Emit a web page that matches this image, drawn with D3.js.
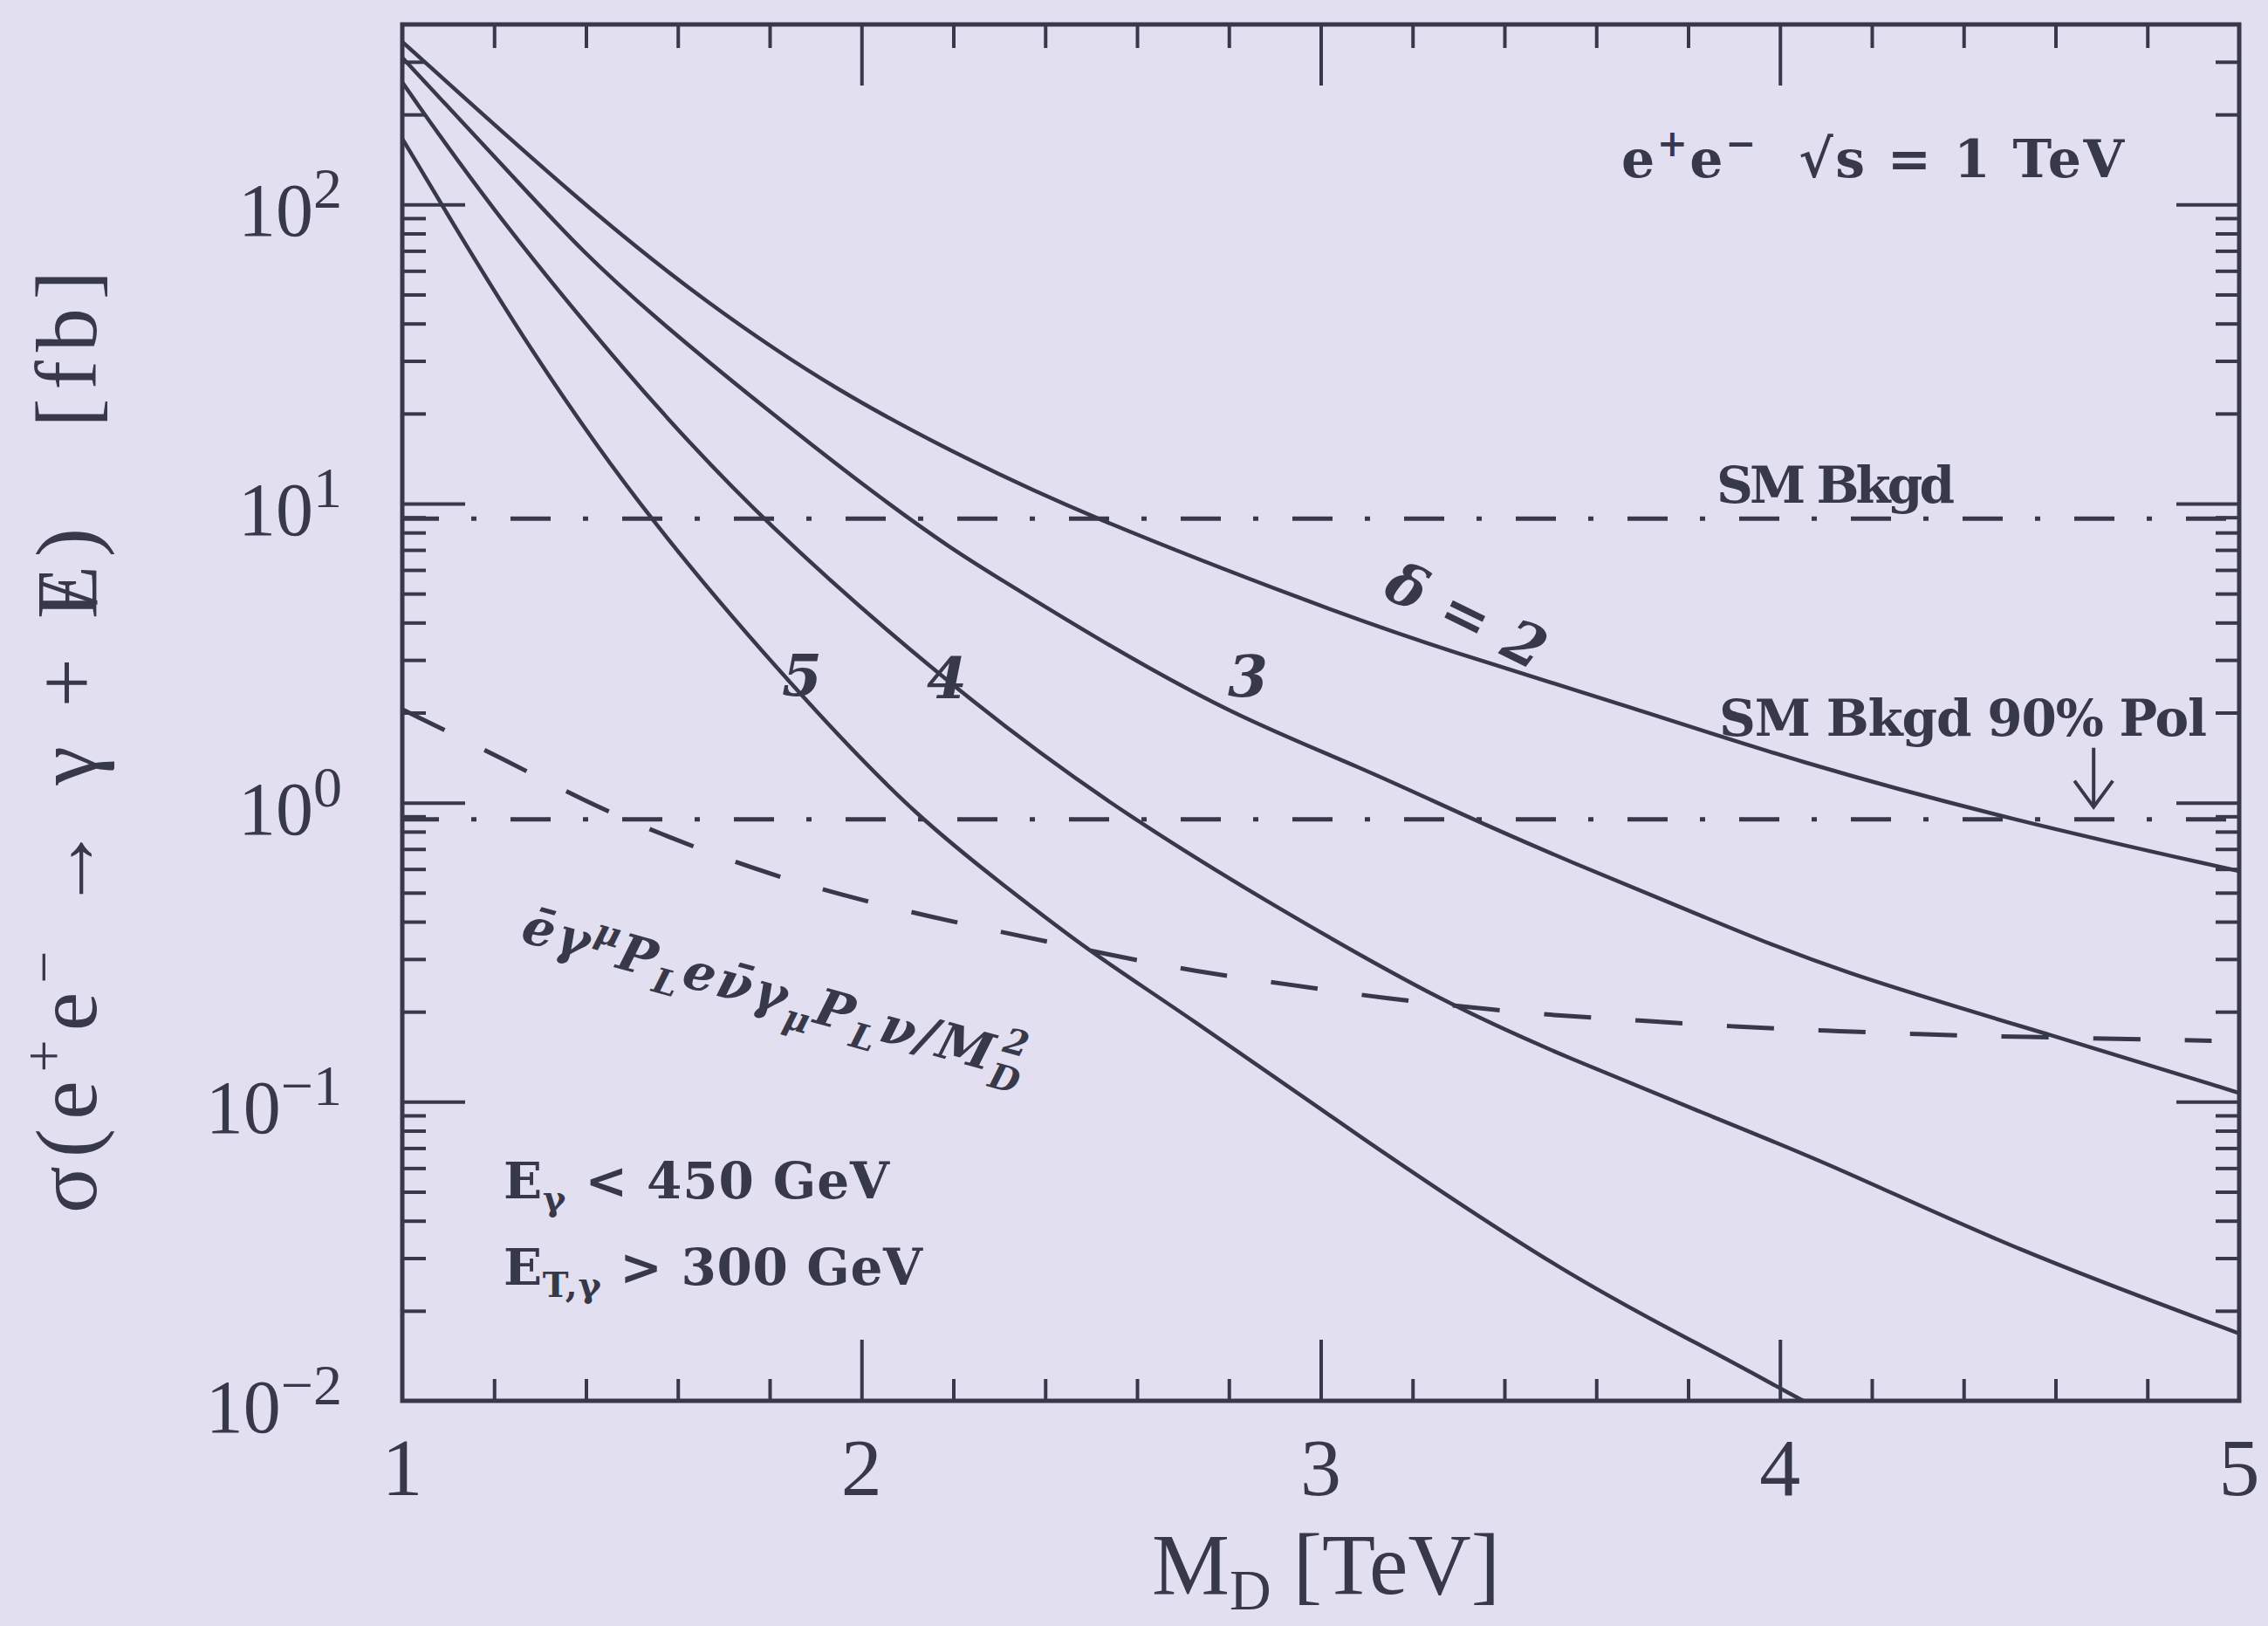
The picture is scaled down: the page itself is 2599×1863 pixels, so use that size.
<!DOCTYPE html>
<html>
<head>
<meta charset="utf-8">
<script src="https://cdn.jsdelivr.net/npm/d3@7"></script>
<style>
  body { margin: 0; background: #e2e0f0; }
  svg { display: block; }
</style>
</head>
<body>
<svg width="2599" height="1863"></svg>
<script>
var svg = d3.select("svg"),
  width = +svg.attr("width"),
  height = +svg.attr("height");

var ink = "#38384b";

// sigma(e+e- -> gamma + missing E) in fb against M_D in TeV
var delta2 = [[1.0, 350], [1.396, 99], [1.657, 47.4], [1.948, 23.6], [2.24, 13.8], [2.471, 9.37],
  [2.99, 4.57], [3.278, 3.21], [3.68, 2.08], [4.03, 1.38], [4.51, 0.87], [5.0, 0.59]];
var delta3 = [[1.0, 310], [1.299, 99.3], [1.48, 50], [2.094, 8.8], [2.31, 5.5], [2.499, 3.63],
  [2.81, 1.95], [3.085, 1.32], [3.33, 0.88], [3.54, 0.637], [3.83, 0.418], [4.12, 0.273],
  [4.61, 0.164], [5.0, 0.107]];
var delta4 = [[1.0, 256], [1.1875, 99.5], [1.48, 28], [1.773, 8.9], [2.267, 1.97], [2.59, 0.88],
  [2.89, 0.458], [3.28, 0.209], [3.54, 0.14], [3.83, 0.092], [4.12, 0.061], [4.51, 0.032],
  [5.0, 0.0168]];
var delta5 = [[1.0, 166], [1.0855, 100], [1.27, 34], [1.532, 8.9], [1.90, 1.99], [2.127, 0.88],
  [2.309, 0.53], [2.499, 0.315], [2.697, 0.2], [3.085, 0.076], [3.54, 0.026], [3.83, 0.0153],
  [4.056, 0.0099]];
// contact operator, dashed
var contact = [[1.0, 2.05], [1.224, 1.39], [1.40, 1.005], [1.557, 0.79], [1.77, 0.595],
  [1.958, 0.49], [2.15, 0.415], [2.34, 0.36], [2.54, 0.31], [2.73, 0.272], [2.92, 0.248],
  [3.115, 0.224], [3.31, 0.208], [3.51, 0.194], [3.70, 0.187], [3.90, 0.178], [4.10, 0.173],
  [4.30, 0.168], [4.50, 0.165], [4.94, 0.160]];
// SM backgrounds, dash-dot
var smBkgd = 8.9;
var smBkgdPol = 0.88;

var xMajor = [1, 2, 3, 4, 5];
var yMajor = [0.01, 0.1, 1, 10, 100];
var yExponent = ["\u22122", "\u22121", "0", "1", "2"];

var x = d3.scaleLinear().domain([1, 5]).range([461, 2566]);
var y = d3.scaleLog().domain([0.01, 400]).range([1605, 28]);

// minor ticks
var xMinor = d3.range(6, 25).filter(function(i) { return i % 5 != 0; }).map(function(i) { return i / 5; });
var yMinor = [];
[-2, -1, 0, 1, 2].forEach(function(e) {
  for (var k = 2; k <= 9; k++) {
    var v = k * Math.pow(10, e);
    if (v < 400) yMinor.push(v);
  }
});

svg.append("rect").attr("width", width).attr("height", height).attr("fill", "#e2e0f0");

svg.append("clipPath").attr("id", "plot-clip").append("rect")
  .attr("x", x(1)).attr("y", y(400))
  .attr("width", x(5) - x(1)).attr("height", y(0.01) - y(400));

/**
 * Strip the domain path and thicken the ticks
 */
function tickStyle(g) {
  g.select(".domain").remove();
  g.selectAll("line").attr("stroke-width", 4);
}

var axes = svg.append("g").attr("color", ink);

// bottom & top
axes.append("g").attr("transform", "translate(0," + y(0.01) + ")")
  .call(d3.axisBottom(x).tickValues(xMinor).tickSize(-25).tickFormat("")).call(tickStyle);
axes.append("g").attr("transform", "translate(0," + y(0.01) + ")")
  .call(d3.axisBottom(x).tickValues([2, 3, 4]).tickSize(-70).tickFormat("")).call(tickStyle);
axes.append("g").attr("transform", "translate(0," + y(400) + ")")
  .call(d3.axisTop(x).tickValues(xMinor).tickSize(-27).tickFormat("")).call(tickStyle);
axes.append("g").attr("transform", "translate(0," + y(400) + ")")
  .call(d3.axisTop(x).tickValues([2, 3, 4]).tickSize(-70).tickFormat("")).call(tickStyle);

// left & right
axes.append("g").attr("transform", "translate(" + x(1) + ",0)")
  .call(d3.axisLeft(y).tickValues(yMinor).tickSize(-27).tickFormat("")).call(tickStyle);
axes.append("g").attr("transform", "translate(" + x(1) + ",0)")
  .call(d3.axisLeft(y).tickValues(yMajor.slice(1)).tickSize(-72).tickFormat("")).call(tickStyle);
axes.append("g").attr("transform", "translate(" + x(5) + ",0)")
  .call(d3.axisRight(y).tickValues(yMinor).tickSize(-27).tickFormat("")).call(tickStyle);
axes.append("g").attr("transform", "translate(" + x(5) + ",0)")
  .call(d3.axisRight(y).tickValues(yMajor.slice(1)).tickSize(-72).tickFormat("")).call(tickStyle);

// frame
svg.append("rect")
  .attr("x", x(1)).attr("y", y(400))
  .attr("width", x(5) - x(1)).attr("height", y(0.01) - y(400))
  .attr("fill", "none").attr("stroke", ink).attr("stroke-width", 5);

var plot = svg.append("g").attr("clip-path", "url(#plot-clip)");

var line = d3.line()
  .x(function(d) { return x(d[0]); })
  .y(function(d) { return y(d[1]); })
  .curve(d3.curveBasis);

plot.selectAll(".delta")
  .data([delta2, delta3, delta4, delta5])
  .enter().append("path")
  .attr("class", "delta")
  .attr("d", line)
  .attr("fill", "none").attr("stroke", ink).attr("stroke-width", 4.5);

plot.append("path")
  .attr("d", line(contact))
  .attr("fill", "none").attr("stroke", ink).attr("stroke-width", 5)
  .attr("stroke-dasharray", "54,51");

plot.selectAll(".bkgd")
  .data([smBkgd, smBkgdPol])
  .enter().append("line")
  .attr("class", "bkgd")
  .attr("x1", x(1)).attr("x2", x(5))
  .attr("y1", function(d) { return y(d); })
  .attr("y2", function(d) { return y(d); })
  .attr("stroke", ink).attr("stroke-width", 5)
  .attr("stroke-dasharray", "46,37,6,39").attr("stroke-dashoffset", 4);

// tick labels
var labels = svg.append("g").attr("font-family", "'Liberation Serif', serif").attr("fill", ink);

yMajor.forEach(function(v, i) {
  var t = labels.append("text")
    .attr("x", 392).attr("y", y(v) + 36)
    .attr("text-anchor", "end").attr("font-size", 86);
  t.append("tspan").text("10");
  t.append("tspan").attr("dy", -32).attr("font-size", 66).text(yExponent[i]);
});

labels.selectAll(".xlab")
  .data(xMajor)
  .enter().append("text")
  .attr("class", "xlab")
  .attr("x", function(d) { return x(d); })
  .attr("y", 1713)
  .attr("text-anchor", "middle").attr("font-size", 94)
  .text(function(d) { return d; });

// axis titles
var xTitle = labels.append("text")
  .attr("x", (x(1) + x(5)) / 2 + 6).attr("y", 1826)
  .attr("text-anchor", "middle").attr("font-size", 100);
xTitle.append("tspan").text("M");
xTitle.append("tspan").attr("dy", 18).attr("font-size", 66).text("D");
xTitle.append("tspan").attr("dy", -18).text("\u00a0[TeV]");

var yTitle = labels.append("text")
  .attr("transform", "translate(110,845) rotate(-90)")
  .attr("text-anchor", "middle").attr("font-size", 100)
  .attr("letter-spacing", 10);
yTitle.append("tspan").text("\u03c3(e");
yTitle.append("tspan").attr("dy", -38).attr("font-size", 66).text("+");
yTitle.append("tspan").attr("dy", 38).text("e");
yTitle.append("tspan").attr("dy", -38).attr("font-size", 66).text("\u2212");
yTitle.append("tspan").attr("dy", 38).text("\u00a0\u2192\u00a0\u03b3\u00a0+\u00a0E");
yTitle.append("tspan").attr("dx", -55).text("/");
yTitle.append("tspan").attr("dx", 17).text(")\u00a0\u00a0\u00a0[fb]");

// annotations
var notes = svg.append("g").attr("font-family", "'DejaVu Serif', serif")
  .attr("font-weight", "bold").attr("fill", ink);

var beam = notes.append("text").attr("x", 1858).attr("y", 203)
  .attr("font-size", 60).attr("textLength", 576);
beam.append("tspan").text("e");
beam.append("tspan").attr("dy", -24).attr("font-size", 42).text("+");
beam.append("tspan").attr("dy", 24).text("e");
beam.append("tspan").attr("dy", -24).attr("font-size", 42).text("\u2212");
beam.append("tspan").attr("dy", 24).text("\u00a0\u00a0\u221as = 1 TeV");

notes.append("text").attr("x", 1967).attr("y", y(smBkgd) - 18)
  .attr("font-size", 58).attr("textLength", 273).text("SM Bkgd");
notes.append("text").attr("x", 1970).attr("y", y(smBkgdPol) - 96)
  .attr("font-size", 58).attr("textLength", 559).text("SM Bkgd 90% Pol");

// arrow down to the polarised background
var ax = x(4.683), ay0 = y(smBkgdPol) - 82, ay1 = y(smBkgdPol) - 14;
notes.append("path")
  .attr("d", "M" + ax + "," + ay0 + "V" + ay1 + "M" + (ax - 22) + "," + (ay1 - 30) + "L" + ax + "," + ay1 + "L" + (ax + 22) + "," + (ay1 - 30))
  .attr("fill", "none").attr("stroke", ink).attr("stroke-width", 4);

notes.append("text")
  .attr("transform", "translate(1680,706) rotate(26)")
  .attr("y", 22).attr("text-anchor", "middle")
  .attr("font-size", 66).attr("font-style", "italic").attr("textLength", 195)
  .text("\u03b4 = 2");

[["5", 919, 773], ["4", 1085, 776], ["3", 1430, 774]].forEach(function(d) {
  notes.append("text").attr("x", d[1]).attr("y", d[2] + 24)
    .attr("text-anchor", "middle").attr("font-size", 66).attr("font-style", "italic")
    .text(d[0]);
});

var op = notes.append("text")
  .attr("transform", "translate(595,1078) rotate(15.5)")
  .attr("font-size", 58).attr("font-style", "italic").attr("letter-spacing", 3);
op.append("tspan").text("\u0113\u03b3");
op.append("tspan").attr("dy", -22).attr("font-size", 40).text("\u03bc");
op.append("tspan").attr("dy", 22).text("P");
op.append("tspan").attr("dy", 15).attr("font-size", 40).text("L");
op.append("tspan").attr("dy", -15).text("e\u03bd\u0304\u03b3");
op.append("tspan").attr("dy", 15).attr("font-size", 40).text("\u03bc");
op.append("tspan").attr("dy", -15).text("P");
op.append("tspan").attr("dy", 15).attr("font-size", 40).text("L");
op.append("tspan").attr("dy", -15).text("\u03bd/M");
op.append("tspan").attr("dy", 17).attr("font-size", 40).text("D");
op.append("tspan").attr("dx", -32).attr("dy", -43).attr("font-size", 40).text("2");

var cut1 = notes.append("text").attr("x", 577).attr("y", 1373)
  .attr("font-size", 58).attr("textLength", 442);
cut1.append("tspan").text("E");
cut1.append("tspan").attr("dy", 14).attr("font-size", 40).text("\u03b3");
cut1.append("tspan").attr("dy", -14).text("\u00a0<\u00a0450\u00a0GeV");

var cut2 = notes.append("text").attr("x", 577).attr("y", 1472)
  .attr("font-size", 58).attr("textLength", 480);
cut2.append("tspan").text("E");
cut2.append("tspan").attr("dy", 14).attr("font-size", 40).text("T,\u03b3");
cut2.append("tspan").attr("dy", -14).text("\u00a0>\u00a0300\u00a0GeV");
</script>
</body>
</html>
